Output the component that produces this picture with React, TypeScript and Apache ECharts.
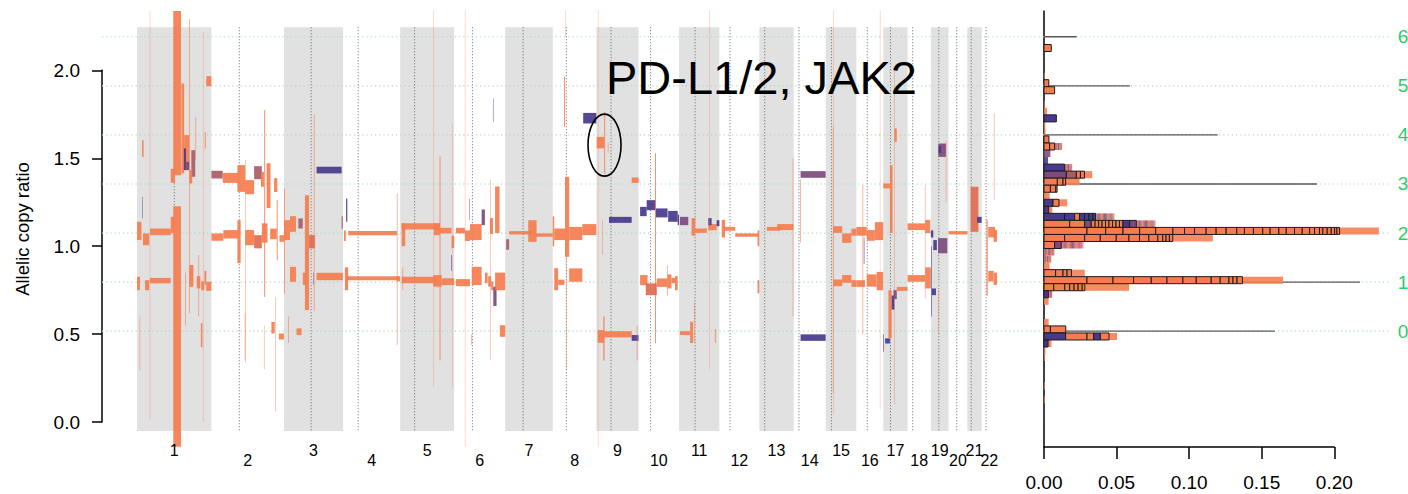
import React, { useEffect, useRef } from "react";
import * as echarts from "echarts";

// ---- genome layout (hg19, Mb) ----
const chromNames = ["1", "2", "3", "4", "5", "6", "7", "8", "9", "10", "11", "12", "13", "14", "15", "16", "17", "18", "19", "20", "21", "22"];
const chromLengthsMb = [249.25, 243.2, 198.0, 191.15, 180.9, 171.1, 159.1, 146.4, 141.2, 135.5, 135.0, 133.9, 115.2, 107.3, 102.5, 90.4, 81.2, 78.1, 59.1, 63.0, 48.1, 51.3];
const centromereMb = [125.0, 93.3, 91.0, 50.4, 48.4, 61.0, 59.9, 45.6, 49.0, 40.2, 53.7, 35.8, 17.9, 17.6, 19.0, 36.6, 24.0, 17.2, 26.5, 27.5, 13.2, 14.7];

// phase classes of a segment
const O = 0; // major/minor resolved (orange)
const P = 1; // alternate phase (purple)
const M = 2; // mixed, mostly orange
const V = 3; // mixed, mostly purple
const D = 4; // orange, wider interval
const X = 5; // blended bins (histogram only)

// allelic segments: [chromosome, start Mb, end Mb, lower bound, upper bound, class]
const segments: number[][] = [
  // chr1
  [1, 0.3, 15, 1.035, 1.139, O], [1, 20, 41, 1.006, 1.073, O], [1, 43.6, 112.9, 1.063, 1.101, O],
  [1, 0.3, 10, 0.75, 0.826, O], [1, 27, 41, 0.75, 0.807, O], [1, 43.6, 112.9, 0.789, 0.82, O],
  [1, 17, 22, 1.508, 1.603, O], [1, 9, 10.5, 0.296, 0.6, O], [1, 43, 44, 0.01, 2.34, O], [1, 17, 18.5, 1.158, 1.281, P],
  [1, 113, 127, 1.36, 1.44, O], [1, 113, 127, 1.074, 1.167, O],
  [1, 121.6, 147.4, 1.404, 2.338, O], [1, 121.6, 147.4, -0.14, 1.228, O],
  [1, 149, 158, 1.414, 1.925, O], [1, 158, 175, 1.433, 1.632, O], [1, 157, 164, 1.433, 1.556, P], [1, 161, 175, 1.433, 1.48, V],
  [1, 182, 195, 1.395, 1.546, M], [1, 175, 185, 1.357, 1.433, O], [1, 175, 177, 0.62, 2.29, O], [1, 196, 198, 1.49, 1.736, O],
  [1, 227, 230, 1.556, 1.65, O], [1, 232, 249, 1.91, 1.967, O], [1, 221, 222, 0.0, 2.22, O],
  [1, 175, 189, 0.769, 0.893, O], [1, 200, 212, 0.76, 0.83, O], [1, 215, 225, 0.75, 0.8, O], [1, 226, 232, 0.78, 0.86, O],
  [1, 232, 249, 0.746, 0.798, O], [1, 214, 219, 0.426, 0.563, O], [1, 161, 163, 0.55, 0.85, O], [1, 206, 208, 0.6, 0.95, O],
  // chr2
  [2, 0, 38, 1.385, 1.429, M], [2, 38, 90, 1.36, 1.417, O], [2, 87, 113, 1.309, 1.461, O], [2, 113, 143, 1.296, 1.376, O],
  [2, 143, 169, 1.381, 1.455, M], [2, 166, 176, 1.338, 1.423, O], [2, 177, 180, 0.712, 1.774, O], [2, 185, 198, 1.217, 1.472, O],
  [2, 210, 221, 1.308, 1.387, O], [2, 219, 222, 0.921, 1.262, O],
  [2, 0, 40, 1.031, 1.073, O], [2, 40, 90, 1.044, 1.092, O], [2, 87, 98, 0.904, 1.148, O], [2, 113, 143, 1.006, 1.092, O],
  [2, 143, 169, 0.988, 1.063, D], [2, 169, 188, 1.02, 1.13, O], [2, 197, 219, 1.04, 1.1, O], [2, 228, 243, 1.025, 1.063, O],
  [2, 201, 212, 0.504, 0.57, O], [2, 226, 243, 0.47, 0.504, O], [2, 215, 216.5, 0.061, 0.712, O], [2, 112, 113.5, 0.35, 0.62, O],
  [2, 176, 177.5, 0.3, 0.55, O], [2, 113, 114.5, 0.34, 1.49, O],
  // chr3
  [3, 0, 20, 1.035, 1.148, O], [3, 20, 40, 1.082, 1.171, O], [3, 48, 63, 1.101, 1.158, M], [3, 70, 84, 0.637, 1.29, O],
  [3, 84, 104, 0.988, 1.063, D], [3, 63, 74, 0.78, 0.85, O], [3, 20, 40, 0.798, 0.883, O], [3, 0, 2.5, 0.73, 1.33, O],
  [3, 100, 102, 0.63, 1.75, O], [3, 42, 59, 0.495, 0.533, O], [3, 14, 16, 0.45, 0.6, O], [3, 98, 100, 0.78, 0.85, M],
  [3, 109, 197, 0.807, 0.849, O], [3, 109, 193, 1.414, 1.452, P], [3, 193, 197, 1.1, 1.17, M],
  // chr4
  [4, 3, 9, 1.03, 1.09, O], [4, 10, 14, 1.139, 1.272, P], [4, 17, 180, 1.063, 1.086, O], [4, 12, 186, 0.807, 0.83, O],
  [4, 6, 17, 0.75, 0.88, O], [4, 180, 182, 0.44, 1.3, O], [4, 180, 191, 0.8, 0.83, O],
  // chr5
  [5, 5, 17, 1.0, 1.13, O], [5, 5, 133, 1.095, 1.13, O], [5, 113, 133, 1.063, 1.13, O], [5, 133, 172, 1.073, 1.105, O],
  [5, 172, 180.9, 0.99, 1.06, O], [5, 5, 122, 0.789, 0.826, O], [5, 111, 139, 0.77, 0.836, O], [5, 139, 180.9, 0.779, 0.818, O],
  [5, 132, 135, 0.35, 1.51, O], [5, 112, 113, 0.2, 2.34, O], [5, 8, 10, 0.75, 0.88, O], [5, 171, 173, 0.86, 0.95, P],
  [5, 174, 175, 0.2, 1.7, O],
  // chr6
  [6, 6, 36, 1.073, 1.105, O], [6, 6, 53, 0.773, 0.813, O], [6, 36, 53, 1.03, 1.09, O], [6, 53, 92, 1.035, 1.126, O],
  [6, 59, 92, 0.779, 0.883, O], [6, 92, 103, 1.12, 1.209, V], [6, 103, 112, 0.79, 0.85, O], [6, 114, 124, 0.77, 0.83, O],
  [6, 124, 131, 0.75, 0.8, O], [6, 131, 142, 0.66, 0.77, V], [6, 137, 152, 1.075, 1.34, O], [6, 120, 130, 1.07, 1.16, O],
  [6, 137, 171, 0.75, 0.85, O], [6, 153, 171, 0.485, 0.551, O], [6, 50, 51.5, 1.15, 1.27, P], [6, 130, 131.5, 1.707, 1.84, P],
  [6, 36, 37, -0.14, 2.34, O], [6, 58, 60, 0.44, 0.5, O], [6, 120, 121.5, 0.35, 1.38, O],
  // chr7
  [7, 3, 13, 0.98, 1.04, M], [7, 13, 89, 1.067, 1.086, O], [7, 77, 105, 1.025, 1.148, O], [7, 100, 159, 1.054, 1.073, O],
  // chr8
  [8, 0, 5, 1.0, 1.17, O], [8, 5, 41, 1.035, 1.101, O], [8, 41, 55, 0.94, 1.395, O], [8, 55, 99, 1.035, 1.11, O],
  [8, 99, 146, 1.063, 1.126, O], [8, 55, 99, 0.798, 0.874, O], [8, 5, 18, 0.75, 0.875, O], [8, 18, 39, 0.78, 0.81, O],
  [8, 38, 41, 1.679, 1.963, O], [8, 43, 44, 2.19, 2.34, O], [8, 46, 47.5, 0.3, 1.1, O], [8, 102, 146, 1.698, 1.758, P],
  // chr9
  [9, 1, 26, 1.556, 1.622, O], [9, 26, 29, 1.414, 1.764, O], [9, 38, 40, 1.53, 1.59, O], [9, 5, 6, -0.14, 2.34, O],
  [9, 42, 118, 1.133, 1.167, P], [9, 118, 141, 1.36, 1.391, O], [9, 4, 26, 0.451, 0.523, O], [9, 26, 118, 0.482, 0.517, O],
  [9, 118, 141, 0.462, 0.495, P], [9, 23, 27, 0.35, 0.6, O], [9, 135, 137, 0.35, 0.55, O], [9, 20, 21.5, 0.95, 1.15, O],
  // chr10
  [10, 5, 27, 1.171, 1.224, P], [10, 27, 57, 1.205, 1.262, P], [10, 57, 97, 1.164, 1.215, P], [10, 99, 131, 1.139, 1.201, P],
  [10, 131, 135.5, 1.12, 1.18, P], [10, 55, 58, 0.449, 1.529, O], [10, 5, 30, 0.779, 0.836, O], [10, 24, 61, 0.722, 0.789, D],
  [10, 61, 97, 0.769, 0.817, O], [10, 97, 110, 0.76, 0.84, O], [10, 110, 122, 0.79, 0.82, O], [10, 122, 131, 0.75, 0.83, O],
  [10, 95, 97, 0.72, 0.89, O],
  // chr11
  [11, 3, 31, 1.12, 1.167, V], [11, 42, 54, 1.06, 1.16, O], [11, 54, 93, 1.076, 1.101, O], [11, 98, 126, 1.091, 1.126, O],
  [11, 98, 109, 1.12, 1.16, P], [11, 126, 135, 1.114, 1.148, P], [11, 3, 37, 0.495, 0.517, O], [11, 37, 47, 0.45, 0.57, O],
  [11, 120, 123, 0.45, 0.53, O], [11, 101, 102, 0.3, 2.34, O], [11, 50, 52, 0.45, 0.68, O],
  // chr12
  [12, 8, 19, 1.05, 1.15, O], [12, 17, 53, 1.088, 1.11, O], [12, 53, 131, 1.054, 1.073, O], [12, 128, 133.9, 1.0, 1.09, O],
  [12, 128, 133.9, 0.732, 0.807, O],
  // chr13
  [13, 25, 70, 1.088, 1.11, O], [13, 60, 114, 1.092, 1.126, O], [13, 112, 114, 0.6, 1.5, O],
  // chr14
  [14, 23, 107, 1.389, 1.427, V], [14, 23, 107, 0.462, 0.499, P], [14, 21, 23, 1.02, 1.38, O],
  // chr15
  [15, 25, 55, 1.076, 1.114, O], [15, 55, 86, 1.019, 1.073, O], [15, 86, 102.5, 1.06, 1.1, O], [15, 25, 55, 0.773, 0.811, O],
  [15, 55, 86, 0.792, 0.836, O], [15, 86, 102.5, 0.769, 0.807, O], [15, 24, 26, 0.165, 1.677, O], [15, 26, 27, 0.04, 2.34, O],
  // chr16
  [16, 0, 35, 1.06, 1.11, O], [16, 35, 62, 1.031, 1.092, O], [16, 62, 90, 1.035, 1.137, O], [16, 35, 68, 0.77, 0.84, O],
  [16, 68, 90, 0.75, 0.854, O], [16, 0, 29, 0.769, 0.807, O], [16, 25, 27, 0.9, 1.05, P], [16, 21, 23, 0.5, 1.35, O],
  [16, 79, 80, 0.07, 2.34, O],
  // chr17
  [17, 0, 22, 1.329, 1.357, O], [17, 22, 31, 1.075, 1.46, O], [17, 37, 45, 1.594, 1.67, O], [17, 36, 37.5, 0.1, 2.0, O],
  [17, 6, 22, 0.447, 0.476, P], [17, 17, 28, 0.477, 0.75, O], [17, 28, 37, 0.64, 0.72, P], [17, 34, 45, 0.7, 0.75, V],
  [17, 45, 81, 0.746, 0.769, O], [17, 0, 2, 0.4, 0.5, P],
  // chr18
  [18, 0, 59, 1.092, 1.13, O], [18, 59, 76, 1.075, 1.15, O], [18, 0, 59, 0.798, 0.836, O], [18, 59, 78, 0.76, 0.88, O],
  [18, 58, 59.5, 0.7, 1.35, O],
  // chr19
  [19, 25, 51, 1.508, 1.584, V], [19, 26, 34, 1.53, 1.57, P], [19, 8, 20, 0.978, 1.035, P], [19, 24, 55, 0.96, 1.046, V],
  [19, 3, 17, 0.722, 0.76, P], [19, 1, 3, 0.6, 1.0, P], [19, 0, 8, 1.05, 1.09, P], [19, 50, 51.5, 1.25, 1.6, O],
  [19, 24, 25.5, 0.5, 0.75, O],
  // chr20
  [20, 0, 63, 1.067, 1.086, O],
  // chr21
  [21, 11, 37, 1.082, 1.338, D], [21, 33, 48, 1.133, 1.167, P],
  // chr22
  [22, 22, 45, 1.05, 1.11, O], [22, 16, 20, 0.72, 1.15, O], [22, 40, 51.3, 1.025, 1.092, O], [22, 22, 40, 0.8, 0.86, O],
  [22, 40, 51.3, 0.78, 0.85, O], [22, 41, 42.5, 1.262, 1.757, O],
];

// copy-number levels on the allelic copy ratio scale
const copyLevels = [0.517, 0.796, 1.075, 1.354, 1.633, 1.912, 2.191];
const copyLevelLabels = ["0", "1", "2", "3", "4", "5", "6"];
const expectedDensity: (number | null)[] = [0.159, 0.2177, null, 0.188, 0.1197, 0.0592, 0.0225];

// histogram: bins of width 0.04 starting at 0.027
const histBinWidth = 0.04;
const histBinOrigin = 0.027;
// [bin index, segment contributions (x1e-3), their classes, remaining short segments (x1e-3), class of remainder]
const histRows: [number, number[], number[], number, number][] = [
  [52, [5.0], [O], 0, O],
  [48, [], [], 0.5, O],
  [47, [3.3], [O], 0, O],
  [46, [7.3], [O], 0, O],
  [44, [], [], 0.5, O],
  [43, [], [], 2.0, O],
  [42, [8.5], [P], 0, O],
  [41, [], [], 0.9, O],
  [40, [], [], 1.1, O],
  [39, [3.4], [O], 0, O],
  [38, [3.9, 3.4], [O, O], 5.3, X],
  [37, [], [], 4.4, V],
  [36, [], [], 2.8, P],
  [35, [14.2], [P], 5.3, X],
  [34, [15.4, 6.9, 2.8, 2.8], [V, M, O, O], 5.3, O],
  [33, [9.2, 3.9, 1.8], [O, O, O], 9.6, O],
  [32, [4.4, 3.7, 0.9], [O, O, O], 0, O],
  [31, [], [], 3.9, O],
  [30, [6.2, 4.1], [P, O], 5.7, O],
  [29, [3.2], [P], 2.5, O],
  [28, [14.2, 6.9, 3.4, 3.4, 3.0, 2.8, 1.8], [P, P, O, P, P, P, P], 13.1, X],
  [27, [17.7, 10.3, 4.6, 2.6, 2.4, 2.4, 2.4, 2.4, 2.4, 2.4, 2.4, 2.4, 4.6, 4.6], [O, O, V, O, O, O, O, O, O, O, O, O, P, V], 13.3, X],
  [26, [29.6, 12.9, 11.9, 11.5, 11.0, 11.9, 8.0, 6.9, 8.0, 6.9, 6.9, 7.3, 5.3, 6.2, 6.4, 5.1, 6.0, 5.1, 5.7, 5.3, 5.1, 3.4, 3.4, 2.3, 3.0, 2.8, 2.3, 1.6, 1.8],
    [O, O, O, O, O, O, O, O, O, O, O, O, O, O, O, O, O, O, O, O, O, O, O, O, O, O, O, O, O], 27.1, O],
  [25, [14.2, 13.8, 10.8, 11.0, 8.7, 7.3, 6.4, 6.2, 3.4, 2.3, 2.3, 2.3], [O, O, O, O, O, O, O, O, O, O, O, O], 27.6, O],
  [24, [7.3, 4.6], [O, V], 15.4, X],
  [23, [], [], 7.3, X],
  [22, [], [], 5.1, X],
  [21, [], [], 3.9, O],
  [20, [8.0, 5.1, 2.8, 3.0], [O, O, O, O], 9.2, O],
  [19, [29.6, 17.9, 14.2, 12.2, 10.8, 11.0, 9.2, 10.3, 6.2, 6.0, 2.8, 2.8, 3.7], [O, O, O, O, O, O, O, O, O, O, O, O, O], 28.0, O],
  [18, [6.7, 7.6, 3.4, 3.0, 2.8, 2.8, 1.8], [O, O, O, O, O, O, O], 30.5, O],
  [17, [3.0], [P], 2.7, X],
  [16, [], [], 3.2, O],
  [13, [], [], 3.2, O],
  [12, [4.4, 10.6], [O, O], 0, O],
  [11, [14.9, 14.7, 4.6, 4.6, 6.0], [P, O, O, P, O], 5.5, O],
  [10, [2.8], [P], 2.3, O],
  [9, [], [], 1.0, O],
  [8, [], [], 0.6, O],
  [6, [], [], 0.6, P],
  [4, [], [], 0.6, O],
  [2, [], [], 0.6, O],
  [0, [], [], 0.6, P],
];

// highlighted locus (chromosome, Mb, allelic copy ratio)
const highlightChrom = 9;
const highlightMb = 27;
const highlightValue = 1.575;
const highlightText = "PD-L1/2, JAK2";

const FONT = "'Liberation Sans', Arial, Helvetica, sans-serif";
const ORANGE = "#f57c4e";
const PURPLE = "#473a8c";
const classColors = [ORANGE, PURPLE, "#a85c66", "#7c4a7c", "#df6b4f"];
const GREEN = "#2fcc6a";

export default function App() {
  const ref = useRef<HTMLDivElement>(null);

  useEffect(() => {
    if (!ref.current) return;
    const chart = echarts.init(ref.current, undefined, { renderer: "svg" });

    const chromOffsets: number[] = [];
    let acc = 0;
    chromLengthsMb.forEach((len) => {
      chromOffsets.push(acc);
      acc += len;
    });
    const genomeLength = acc;

    const segData = segments.map(([c, s, e, lo, hi, k]) => [chromOffsets[c - 1] + s, chromOffsets[c - 1] + e, lo, hi, k]);
    const bandData = chromLengthsMb
      .map((len, i) => [chromOffsets[i], chromOffsets[i] + len, i])
      .filter((d) => d[2] % 2 === 0);
    const cenData = centromereMb.map((c, i) => [chromOffsets[i] + c, i]);
    const labelData = chromLengthsMb.map((len, i) => [chromOffsets[i] + len / 2, i]);

    const bandTop = 2.245;
    const bandBottom = -0.05;

    const histCells: number[][] = [];
    histRows.forEach(([bin, widths, kinds, tail, tailKind]) => {
      const lo = histBinOrigin + bin * histBinWidth;
      const hi = lo + histBinWidth;
      let x = 0;
      widths.forEach((w, j) => {
        histCells.push([x, x + w / 1000, lo, hi, kinds[j], 1]);
        x += w / 1000;
      });
      if (tail > 0) histCells.push([x, x + tail / 1000, lo, hi, tailKind, 0]);
    });
    // draw short-segment remainders beneath the outlined contributions
    histCells.sort((a, b) => a[5] - b[5]);

    const blend = new echarts.graphic.LinearGradient(0, 0, 1, 0, [
      { offset: 0, color: ORANGE },
      { offset: 0.18, color: "#8d5585" },
      { offset: 0.32, color: ORANGE },
      { offset: 0.5, color: "#6c4a8a" },
      { offset: 0.66, color: ORANGE },
      { offset: 0.82, color: "#a3648a" },
      { offset: 1, color: "#f79a76" },
    ]);

    const densityData = expectedDensity
      .map((d, i) => [d, copyLevels[i]])
      .filter((d) => d[0] !== null);

    const hiddenValue = (gridIndex: number, min: number, max: number) => ({
      type: "value" as const,
      gridIndex,
      min,
      max,
      show: false,
    });

    chart.setOption({
      animation: false,
      grid: [
        { left: 137, top: 0, width: 860, height: 457.3 },
        { left: 102, top: 70.35, width: 20, height: 351.77 },
        { left: 1044, top: 0, width: 290.3, height: 457.3 },
        { left: 1044, top: 11, width: 290.3, height: 436 },
        { left: 102, top: 0, width: 1288, height: 457.3 },
      ],
      xAxis: [
        hiddenValue(0, 0, genomeLength),
        hiddenValue(1, 0, 1),
        hiddenValue(2, 0, 0.2),
        {
          type: "value",
          gridIndex: 3,
          min: 0,
          max: 0.2,
          interval: 0.05,
          position: "bottom",
          axisLine: { show: true, onZero: false, lineStyle: { color: "#000", width: 1.5 } },
          axisTick: { show: true, length: 12, lineStyle: { color: "#000", width: 1.5 } },
          axisLabel: { margin: 26, fontSize: 19, color: "#000", fontFamily: FONT, formatter: (v: number) => v.toFixed(2) },
          splitLine: { show: false },
        },
        hiddenValue(4, 0, 1),
      ],
      yAxis: [
        hiddenValue(0, -0.2, 2.4),
        {
          type: "value",
          gridIndex: 1,
          min: 0,
          max: 2,
          interval: 0.5,
          position: "left",
          axisLine: { show: true, onZero: false, lineStyle: { color: "#000", width: 1.5 } },
          axisTick: { show: true, length: 10, lineStyle: { color: "#000", width: 1.5 } },
          axisLabel: { margin: 22, fontSize: 19, color: "#000", fontFamily: FONT, formatter: (v: number) => v.toFixed(1) },
          splitLine: { show: false },
        },
        hiddenValue(2, -0.2, 2.4),
        {
          type: "value",
          gridIndex: 3,
          min: 0,
          max: 1,
          axisLine: { show: true, onZero: false, lineStyle: { color: "#000", width: 1.5 } },
          axisTick: { show: false },
          axisLabel: { show: false },
          splitLine: { show: false },
        },
        hiddenValue(4, -0.2, 2.4),
      ],
      graphic: [
        {
          type: "text",
          x: 22,
          y: 229,
          rotation: Math.PI / 2,
          style: { text: "Allelic copy ratio", fontSize: 18.5, fontFamily: FONT, fill: "#000", align: "center", verticalAlign: "middle" },
        },
      ],
      series: [
        // chromosome shading
        {
          type: "custom",
          xAxisIndex: 0,
          yAxisIndex: 0,
          silent: true,
          clip: false,
          z: 1,
          data: bandData,
          renderItem: (_p: any, api: any) => {
            const a = api.coord([api.value(0), bandTop]);
            const b = api.coord([api.value(1), bandBottom]);
            return { type: "rect", shape: { x: a[0], y: a[1], width: b[0] - a[0], height: b[1] - a[1] }, style: { fill: "#e1e1e1" } };
          },
        },
        // centromeres
        {
          type: "custom",
          xAxisIndex: 0,
          yAxisIndex: 0,
          silent: true,
          clip: false,
          z: 2,
          data: cenData,
          renderItem: (_p: any, api: any) => {
            const a = api.coord([api.value(0), bandTop]);
            const b = api.coord([api.value(0), bandBottom]);
            return {
              type: "line",
              shape: { x1: a[0], y1: a[1], x2: b[0], y2: b[1] },
              style: { stroke: "#666", lineWidth: 1, lineDash: [1, 2] },
            };
          },
        },
        // copy-number levels across both panels
        {
          type: "custom",
          xAxisIndex: 4,
          yAxisIndex: 4,
          silent: true,
          clip: false,
          z: 3,
          data: copyLevels.map((v, i) => [v, i]),
          renderItem: (_p: any, api: any) => {
            const a = api.coord([0, api.value(0)]);
            const b = api.coord([1, api.value(0)]);
            return {
              type: "group",
              children: [
                { type: "line", shape: { x1: a[0], y1: a[1], x2: b[0], y2: b[1] }, style: { stroke: "#a6e0b8", lineWidth: 1.2, lineDash: [1.2, 3] } },
                {
                  type: "text",
                  x: b[0] + 13,
                  y: b[1],
                  style: { text: copyLevelLabels[api.value(1)], fontSize: 19, fontFamily: FONT, fill: GREEN, align: "center", verticalAlign: "middle" },
                },
              ],
            };
          },
        },
        // segments
        {
          type: "custom",
          xAxisIndex: 0,
          yAxisIndex: 0,
          silent: true,
          clip: false,
          z: 5,
          data: segData,
          encode: { x: [0, 1], y: [2, 3] },
          renderItem: (_p: any, api: any) => {
            const a = api.coord([api.value(0), api.value(3)]);
            const b = api.coord([api.value(1), api.value(2)]);
            return {
              type: "rect",
              shape: { x: a[0], y: a[1], width: b[0] - a[0], height: b[1] - a[1] },
              style: { fill: classColors[api.value(4)], opacity: 0.92 },
            };
          },
        },
        // chromosome names
        {
          type: "custom",
          xAxisIndex: 0,
          yAxisIndex: 0,
          silent: true,
          clip: false,
          z: 5,
          data: labelData,
          renderItem: (_p: any, api: any) => {
            const i = api.value(1);
            const p = api.coord([api.value(0), 0]);
            return {
              type: "text",
              x: p[0],
              y: p[1] + (i % 2 === 0 ? 28 : 38),
              style: { text: chromNames[i], fontSize: 16, fontFamily: FONT, fill: "#000", align: "center", verticalAlign: "middle" },
            };
          },
        },
        // highlighted locus
        {
          type: "custom",
          xAxisIndex: 0,
          yAxisIndex: 0,
          silent: true,
          clip: false,
          z: 6,
          data: [[chromOffsets[highlightChrom - 1] + highlightMb, highlightValue]],
          renderItem: (_p: any, api: any) => {
            const c = api.coord([api.value(0), api.value(1)]);
            return {
              type: "group",
              children: [
                { type: "ellipse", shape: { cx: c[0], cy: c[1], rx: 16.5, ry: 31 }, style: { fill: "none", stroke: "#000", lineWidth: 1.6 } },
                {
                  type: "text",
                  x: c[0] + 1.5,
                  y: c[1] - 67.6,
                  style: { text: highlightText, fontSize: 47, fontFamily: FONT, fill: "#000", align: "left", verticalAlign: "middle" },
                },
              ],
            };
          },
        },
        // expected density at each level
        {
          type: "custom",
          xAxisIndex: 2,
          yAxisIndex: 2,
          silent: true,
          clip: false,
          z: 4,
          data: densityData,
          renderItem: (_p: any, api: any) => {
            const a = api.coord([0, api.value(1)]);
            const b = api.coord([api.value(0), api.value(1)]);
            return { type: "line", shape: { x1: a[0], y1: a[1], x2: b[0], y2: b[1] }, style: { stroke: "#5a5a5a", lineWidth: 1.3 } };
          },
        },
        // histogram of segment lengths
        {
          type: "custom",
          xAxisIndex: 2,
          yAxisIndex: 2,
          silent: true,
          clip: false,
          z: 5,
          data: histCells,
          renderItem: (_p: any, api: any) => {
            const a = api.coord([api.value(0), api.value(3)]);
            const b = api.coord([api.value(1), api.value(2)]);
            const kind = api.value(4);
            const outlined = api.value(5) === 1;
            return {
              type: "rect",
              shape: { x: a[0], y: a[1], width: b[0] - a[0], height: b[1] - a[1] },
              style: {
                fill: kind === X ? blend : classColors[kind],
                opacity: outlined ? 1 : 0.88,
                stroke: outlined ? "#1c1c1c" : "none",
                lineWidth: outlined ? 1 : 0,
              },
            };
          },
        },
      ],
    });

    return () => chart.dispose();
  }, []);

  return <div ref={ref} style={{ position: "fixed", left: 0, top: 0, width: 1408, height: 494, background: "#fff" }} />;
}
